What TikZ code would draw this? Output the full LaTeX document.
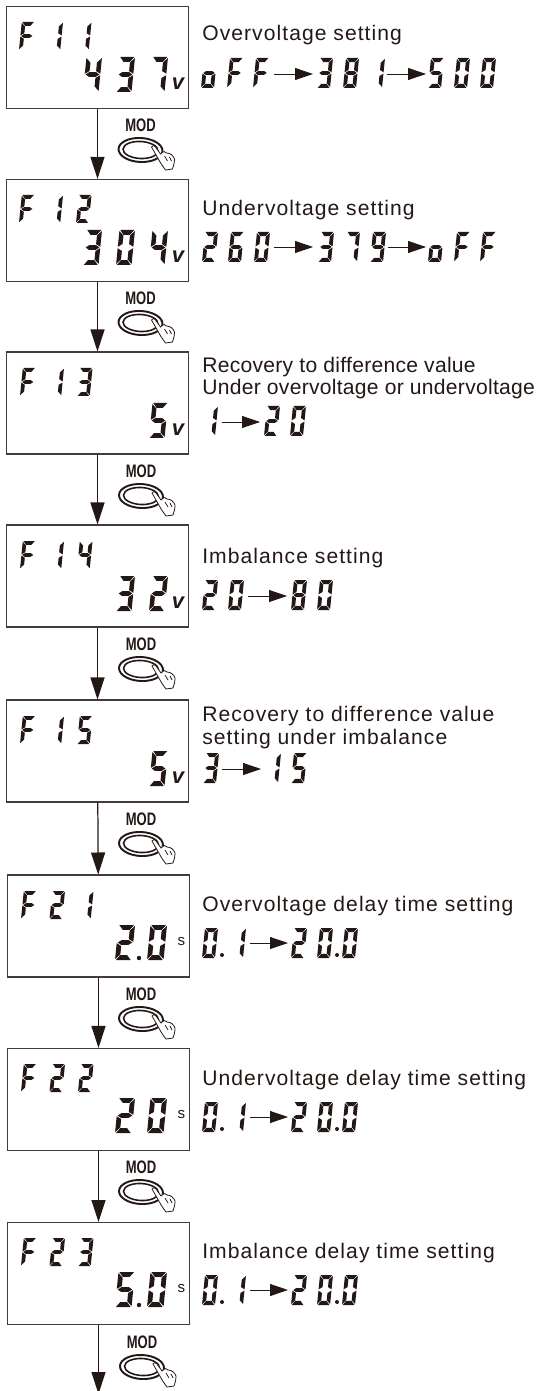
\documentclass[tikz,border=0pt]{standalone}
\usepackage{fontspec}
\usetikzlibrary{arrows.meta}
\setmainfont{Liberation Sans}
\definecolor{ink}{HTML}{231815}
\tikzset{
  panel/.style={draw=ink!85, line width=.6pt, fill=white, minimum width=3.64cm, minimum height=2.04cm, inner sep=0pt},
  flow/.style={draw=ink, line width=.7pt, -{Triangle[length=.44cm,width=.28cm]}},
  valflow/.style={draw=ink, line width=.45pt, -{Triangle[length=.36cm,width=.24cm]}},
  lcdseg/.style={fill=ink},
  caption/.style={text=ink, anchor=base west, inner sep=0pt, align=left, font=\fontsize{12}{13}\selectfont\addfontfeatures{LetterSpace=5}},
  captiontight/.style={caption, font=\fontsize{12}{13}\selectfont\addfontfeatures{LetterSpace=1.3}},
  unitv/.style={text=ink, inner sep=0pt, font=\fontsize{12.5}{13}\selectfont\bfseries\itshape},
  units/.style={text=ink, inner sep=0pt, font=\fontsize{8.6}{9}\selectfont},
  modlabel/.style={text=ink, inner sep=0pt, font=\fontsize{10.3}{11}\selectfont\bfseries},
  modkey/.pic={
    \draw[ink, line width=1.1pt, rotate=-3] (0,0) ellipse [x radius=22, y radius=12];
    \draw[ink, line width=.9pt, rotate=-3] (0,0) ellipse [x radius=17.5, y radius=8.5];
    \draw[ink, line width=.45pt, fill=white] (11,-3) .. controls (12,-5) and (14,-5) .. (15,-3) -- (20,4)
      .. controls (23,1) and (25,1) .. (26,3) .. controls (30,3) and (33,6) .. (34,9)
      .. controls (34,13) and (33,16) .. (32,19) -- (25,20) .. controls (22,16) and (20,13) .. (19,11) -- cycle;
    \draw[ink, line width=.4pt] (24,6) -- (27,11) (29,7) -- (31,11);
    \node[modlabel] (lab) at (0,-24.5) {\scalebox{.72}[1]{MOD}};
  }
}
% lcd segments, unit box, y going up
\def\sga{\fill[lcdseg] (.05,1)--(.95,1)--(.70,.86)--(.29,.86)--cycle;}
\def\sgb{\fill[lcdseg] (1,.97)--(.71,.84)--(.71,.6)--(1,.52)--cycle;}
\def\sgc{\fill[lcdseg] (1,.48)--(.71,.40)--(.71,.16)--(1,.03)--cycle;}
\def\sgd{\fill[lcdseg] (.05,0)--(.95,0)--(.70,.14)--(.29,.14)--cycle;}
\def\sge{\fill[lcdseg] (0,.48)--(.29,.40)--(.29,.16)--(0,.03)--cycle;}
\def\sgf{\fill[lcdseg] (0,.97)--(.29,.84)--(.29,.6)--(0,.52)--cycle;}
\def\sgg{\fill[lcdseg] (.06,.5)--(.27,.565)--(.73,.565)--(.94,.5)--(.73,.435)--(.27,.435)--cycle;}
\expandafter\def\csname gl0\endcsname{a,b,c,d,e,f}
\expandafter\def\csname gl1\endcsname{b,c}
\expandafter\def\csname gl2\endcsname{a,b,g,e,d}
\expandafter\def\csname gl3\endcsname{a,b,g,c,d}
\expandafter\def\csname gl4\endcsname{f,g,b,c}
\expandafter\def\csname gl5\endcsname{a,f,g,c,d}
\expandafter\def\csname gl6\endcsname{a,f,g,e,c,d}
\expandafter\def\csname gl7\endcsname{a,b,c}
\expandafter\def\csname gl8\endcsname{a,b,c,d,e,f,g}
\expandafter\def\csname gl9\endcsname{a,b,c,d,f,g}
\expandafter\def\csname glF\endcsname{a,f,g,e}
\expandafter\def\csname glo\endcsname{g,c,d,e}
% x, y (top left), width, height, pitch, characters
\newcommand{\lcd}[6]{\foreach \ch [count=\k from 0] in {#6} {
    \begin{scope}[shift={(#1+\k*#5,#2+#4)}, x={(#3*.02cm,0)}, y={(.1*#4*.02cm,#4*.02cm)}]
      \edef\segs{\csname gl\ch\endcsname}
      \foreach \s in \segs {\csname sg\s\endcsname}
    \end{scope}}}
\newcommand{\lcdtop}[3]{\lcd{#1}{#2}{12.7}{28}{28.5}{#3}}
\newcommand{\lcdbig}[3]{\lcd{#1}{#2}{15.5}{35}{33}{#3}}
\newcommand{\lcdval}[3]{\lcd{#1}{#2}{13}{30}{26}{#3}}
\newcommand{\valarrow}[4]{\coordinate (#1s) at (#2,#4); \coordinate (#1e) at (#3,#4); \draw[valflow] (#1s) -- (#1e);}
\begin{document}
\begin{tikzpicture}[x=.02cm, y=-.02cm]
  \useasboundingbox (0,0) rectangle (537,1391);
  \node[panel] (p1) at (97.5,57.4) {};
  \node[panel] (p2) at (97.5,230.4) {};
  \node[panel] (p3) at (97.5,403) {};
  \node[panel] (p4) at (97.5,576) {};
  \node[panel] (p5) at (97.5,751) {};
  \node[panel] (p6) at (98.5,926) {};
  \node[panel] (p7) at (98.5,1099.5) {};
  \node[panel] (p8) at (98.5,1273.5) {};
  \coordinate (pend) at (98.5,1394);
  \draw[flow] (p1) -- (p2);
  \draw[flow] (p2) -- (p3);
  \draw[flow] (p3) -- (p4);
  \draw[flow] (p4) -- (p5);
  \draw[flow] (p5) -- (p6);
  \draw[flow] (p6) -- (p7);
  \draw[flow] (p7) -- (p8);
  \draw[flow] (p8) -- (pend);
  \pic (m1) at (140.5,150) {modkey};
  \pic (m2) at (140.5,323) {modkey};
  \pic (m3) at (141,496) {modkey};
  \pic (m4) at (141,669) {modkey};
  \pic (m5) at (141,844) {modkey};
  \pic (m6) at (141,1019) {modkey};
  \pic (m7) at (141,1192) {modkey};
  \pic (m8) at (142,1367) {modkey};
  % displays
  \lcdtop{19}{22}{F,1,1}
  \lcdbig{83}{57}{4,3,7}
  \node[unitv] (u1) at (178,84) {v};
  \lcdtop{19}{195}{F,1,2}
  \lcdbig{83}{230}{3,0,4}
  \node[unitv] (u2) at (178,257) {v};
  \lcdtop{20}{368}{F,1,3}
  \lcdbig{149}{403}{5}
  \node[unitv] (u3) at (178,430) {v};
  \lcdtop{20}{541}{F,1,4}
  \lcdbig{116}{576}{3,2}
  \node[unitv] (u4) at (178,603) {v};
  \lcdtop{20}{716}{F,1,5}
  \lcdbig{149}{751}{5}
  \node[unitv] (u5) at (178,778) {v};
  \lcdtop{21}{891}{F,2,1}
  \lcd{115}{925}{16.5}{35}{32}{2,0}
  \fill[ink] (139,958) circle (2.2);
  \node[units] (u6) at (181.5,942) {s};
  \lcdtop{21}{1064}{F,2,2}
  \lcd{115}{1098}{16.5}{35}{32}{2,0}
  \node[units] (u7) at (181.5,1115) {s};
  \lcdtop{21}{1238}{F,2,3}
  \lcd{115}{1272}{16.5}{35}{32}{5,0}
  \fill[ink] (139,1305) circle (2.2);
  \node[units] (u8) at (181.5,1289) {s};
  % value ranges
  \node[caption] (t1) at (202,41) {Overvoltage setting};
  \lcdval{201}{58}{o,F,F}
  \valarrow{a1}{274}{313}{74}
  \lcdval{317}{58}{3,8,1}
  \valarrow{a2}{387}{426}{74}
  \lcdval{428}{58}{5,0,0}
  \node[caption] (t2) at (202,216) {Undervoltage setting};
  \lcdval{202}{232}{2,6,0}
  \valarrow{a3}{274}{313}{247}
  \lcdval{318}{232}{3,7,9}
  \valarrow{a4}{388}{426}{247}
  \lcdval{428}{232}{o,F,F}
  \node[captiontight] (t3) at (202,395) {Recovery to difference value\\Under overvoltage or undervoltage};
  \lcdval{202}{406}{1}
  \valarrow{a5}{222}{260}{422}
  \lcdval{264}{406}{2,0}
  \node[caption] (t4) at (202,563) {Imbalance setting};
  \lcdval{202}{580}{2,0}
  \valarrow{a6}{248}{287}{596}
  \lcdval{291}{580}{8,0}
  \node[caption] (t5) at (202,744) {Recovery to difference value\\setting under imbalance};
  \lcdval{203}{753}{3}
  \valarrow{a7}{222}{261}{769}
  \lcdval{265}{753}{1,5}
  \node[caption] (t6) at (202,911) {Overvoltage delay time setting};
  \lcdval{202}{928}{0}
  \fill[ink] (222,955) circle (2);
  \lcdval{230}{928}{1}
  \valarrow{a8}{250}{288}{943}
  \lcdval{291}{928}{2,0}
  \fill[ink] (337,955) circle (2);
  \lcdval{342}{928}{0}
  \node[caption] (t7) at (202,1085) {Undervoltage delay time setting};
  \lcdval{202}{1102}{0}
  \fill[ink] (222,1129) circle (2);
  \lcdval{230}{1102}{1}
  \valarrow{a9}{250}{288}{1117}
  \lcdval{291}{1102}{2,0}
  \fill[ink] (337,1129) circle (2);
  \lcdval{342}{1102}{0}
  \node[caption] (t8) at (202,1258) {Imbalance delay time setting};
  \lcdval{202}{1275}{0}
  \fill[ink] (222,1302) circle (2);
  \lcdval{230}{1275}{1}
  \valarrow{a10}{250}{288}{1290}
  \lcdval{291}{1275}{2,0}
  \fill[ink] (337,1302) circle (2);
  \lcdval{342}{1275}{0}
\end{tikzpicture}
\end{document}
